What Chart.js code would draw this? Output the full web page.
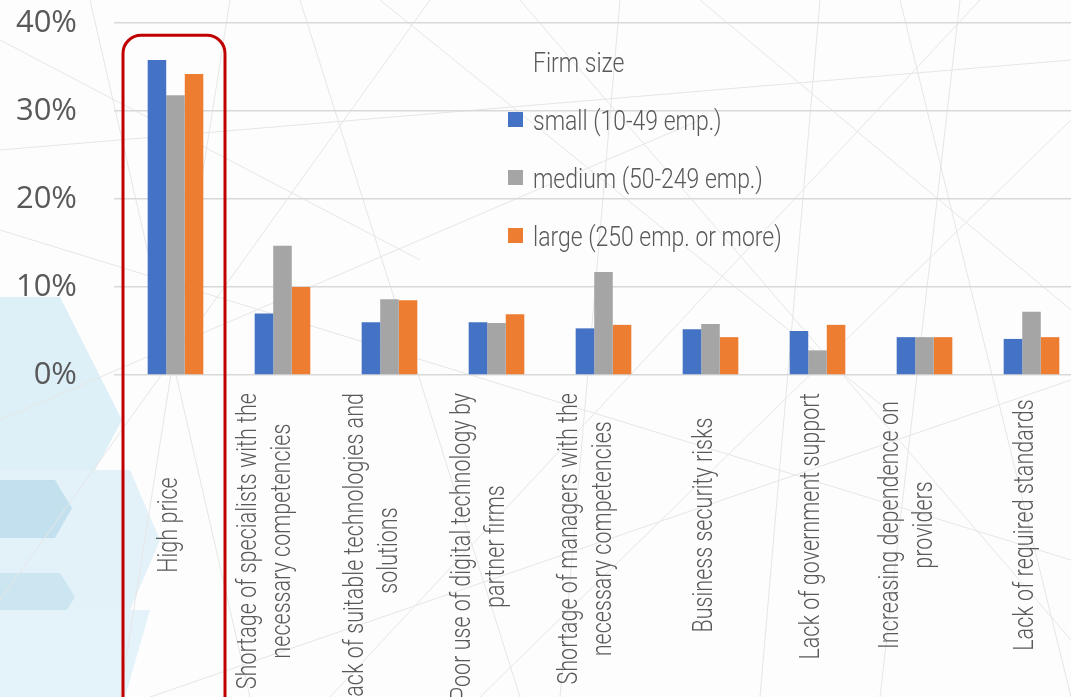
<!DOCTYPE html>
<html>
<head>
    <title>Barriers to digital technology by firm size</title>
    <script src="https://cdn.jsdelivr.net/npm/chart.js"></script>
    <style>
        html, body { margin: 0; padding: 0; overflow: hidden; background: #fdfdfd; }
        .stage { position: relative; width: 1071px; height: 697px; overflow: hidden; }
        .backdrop { position: absolute; left: 0; top: 0; }
        .chart-box { position: absolute; left: 0; top: 0; width: 1090px; height: 697px; }
    </style>
</head>
<body>
<div class="stage">
    <svg class="backdrop" width="1071" height="697" xmlns="http://www.w3.org/2000/svg">
        <!-- hexagon decoration, bottom left -->
        <polygon points="0,297 60,297 122,420 95,470 0,470" fill="#cfe8f3" opacity="0.7"/>
        <polygon points="0,470 130,470 160,540 130,610 0,610" fill="#dceff7" opacity="0.8"/>
        <polygon points="0,480 55,480 72,508 55,538 0,538" fill="#a9d1e6" opacity="0.55"/>
        <polygon points="0,573 60,573 75,597 60,620 0,620" fill="#b4d7ea" opacity="0.5"/>
        <polygon points="0,610 150,610 125,697 0,697" fill="#e3f3f9"/>
        <!-- faint network lines -->
        <g stroke="#e6e6e6" stroke-width="1">
            <line x1="0" y1="40" x2="420" y2="260"/>
            <line x1="90" y1="0" x2="250" y2="697"/>
            <line x1="230" y1="0" x2="120" y2="697"/>
            <line x1="300" y1="0" x2="520" y2="697"/>
            <line x1="0" y1="420" x2="700" y2="120"/>
            <line x1="380" y1="0" x2="900" y2="420"/>
            <line x1="620" y1="0" x2="560" y2="697"/>
            <line x1="700" y1="0" x2="1071" y2="310"/>
            <line x1="820" y1="0" x2="760" y2="697"/>
            <line x1="960" y1="0" x2="880" y2="697"/>
            <line x1="1071" y1="120" x2="480" y2="697"/>
            <line x1="0" y1="230" x2="1071" y2="560"/>
            <line x1="150" y1="697" x2="1071" y2="380"/>
            <line x1="520" y1="0" x2="1071" y2="640"/>
            <line x1="0" y1="600" x2="430" y2="0"/>
            <line x1="900" y1="0" x2="1071" y2="697"/>
            <line x1="330" y1="697" x2="980" y2="0"/>
            <line x1="0" y1="150" x2="1071" y2="60"/>
        </g>
    </svg>
    <div class="chart-box"><canvas id="chart" width="1090" height="697"></canvas></div>
</div>

<script>
    // data (percent of firms)
    const categories = [
        ['High price'],
        ['Shortage of specialists with the', 'necessary competencies'],
        ['Lack of suitable technologies and', 'solutions'],
        ['Poor use of digital technology by', 'partner firms'],
        ['Shortage of managers with the', 'necessary competencies'],
        ['Business security risks'],
        ['Lack of government support'],
        ['Increasing dependence on', 'providers'],
        ['Lack of required standards']
    ];
    const seriesNames = ['small (10-49 emp.)', 'medium (50-249 emp.)', 'large (250 emp. or more)'];
    const smallFirms  = [35.8, 7.0, 6.0, 6.0, 5.3, 5.2, 5.0, 4.3, 4.1];
    const mediumFirms = [31.8, 14.7, 8.6, 5.9, 11.7, 5.8, 2.8, 4.3, 7.2];
    const largeFirms  = [34.2, 10.0, 8.5, 6.9, 5.7, 4.3, 5.7, 4.3, 4.3];
    const yTicks = [0, 10, 20, 30, 40];
    const legendTitle = 'Firm size';
    const highlightIndex = 0;
    const highlightTop = 38.6;

    const colors = ['#4472C4', '#A5A5A5', '#ED7D31'];
    const textColor = '#595959';
    const condensedFont = '300 28px Roboto';
    const labelSqueeze = 0.77;
    const legendSqueeze = 0.82;

    function squeezedText(ctx, text, x, y, sx) {
        ctx.save();
        ctx.translate(x, y);
        ctx.scale(sx, 1);
        ctx.fillText(text, 0, 0);
        ctx.restore();
    }

    // rotated category names, lines centred on each other like the original
    const categoryLabels = {
        id: 'categoryLabels',
        afterDraw(chart) {
            const {ctx, chartArea, scales: {x}} = chart;
            ctx.save();
            ctx.font = condensedFont;
            ctx.fillStyle = textColor;
            ctx.textAlign = 'center';
            ctx.textBaseline = 'alphabetic';
            categories.forEach((lines, i) => {
                const cx = x.getPixelForValue(i);
                const widest = Math.max(...lines.map(l => ctx.measureText(l).width)) * labelSqueeze;
                const cy = Math.max(chartArea.bottom + 150, chartArea.bottom + 18 + widest / 2);
                lines.forEach((line, k) => {
                    ctx.save();
                    ctx.translate(cx, cy);
                    ctx.rotate(-Math.PI / 2);
                    ctx.scale(labelSqueeze, 1);
                    ctx.fillText(line, 0, 1 - (lines.length - 1) * 28 + k * 34);
                    ctx.restore();
                });
            });
            ctx.restore();
        }
    };

    const sideLegend = {
        id: 'sideLegend',
        afterDraw(chart) {
            const {ctx} = chart;
            ctx.save();
            ctx.font = condensedFont;
            ctx.fillStyle = textColor;
            ctx.textAlign = 'left';
            squeezedText(ctx, legendTitle, 533, 72, legendSqueeze);
            chart.data.datasets.forEach((ds, i) => {
                const top = 112 + i * 58;
                ctx.fillStyle = ds.backgroundColor;
                ctx.fillRect(508, top, 15, 15);
                ctx.fillStyle = textColor;
                squeezedText(ctx, ds.label, 533, top + 18, legendSqueeze);
            });
            ctx.restore();
        }
    };

    const highlightBox = {
        id: 'highlightBox',
        afterDatasetsDraw(chart) {
            const {ctx, scales: {x, y}} = chart;
            const cx = x.getPixelForValue(highlightIndex) - 1.5;
            const top = y.getPixelForValue(highlightTop);
            ctx.save();
            ctx.strokeStyle = '#C00000';
            ctx.lineWidth = 3;
            ctx.beginPath();
            ctx.roundRect(cx - 51, top, 102, chart.height - top + 40, 18);
            ctx.stroke();
            ctx.restore();
        }
    };

    new Chart(document.getElementById('chart'), {
        type: 'bar',
        data: {
            labels: categories,
            datasets: [
                {label: seriesNames[0], data: smallFirms, backgroundColor: colors[0]},
                {label: seriesNames[1], data: mediumFirms, backgroundColor: colors[1]},
                {label: seriesNames[2], data: largeFirms, backgroundColor: colors[2]}
            ]
        },
        options: {
            responsive: false,
            animation: false,
            layout: { padding: { top: 23, right: 5, bottom: 322, left: 0 } },
            datasets: { bar: { categoryPercentage: 0.52, barPercentage: 1.0 } },
            plugins: {
                legend: { display: false },
                tooltip: { enabled: false }
            },
            scales: {
                x: { display: false },
                y: {
                    min: yTicks[0],
                    max: yTicks[yTicks.length - 1],
                    afterFit(scale) {
                        scale.width = 122;
                        scale.paddingTop = 0;
                        scale.paddingBottom = 0;
                    },
                    afterBuildTicks(scale) { scale.ticks = yTicks.map(v => ({value: v})); },
                    ticks: {
                        padding: 37,
                        color: textColor,
                        font: { family: 'Open Sans', size: 31 },
                        callback: v => v + '%'
                    },
                    grid: { color: '#d9d9d9', lineWidth: 1.5, drawTicks: true, tickLength: 8 },
                    border: { display: false }
                }
            }
        },
        plugins: [highlightBox, categoryLabels, sideLegend]
    });
</script>
</body>
</html>
